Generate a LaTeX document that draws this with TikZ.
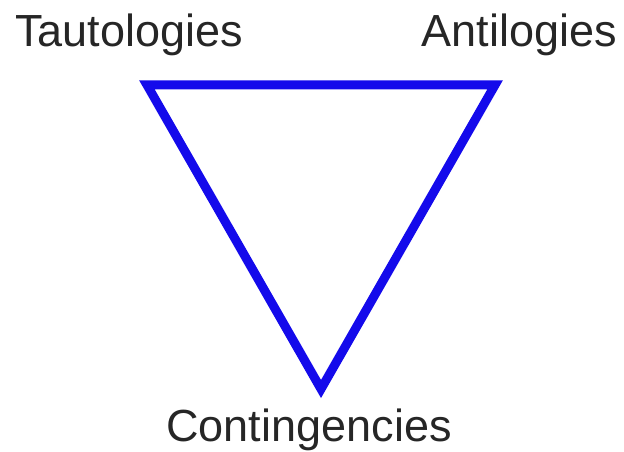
\documentclass[tikz,border=0pt]{standalone}
\usepackage{fontspec}
\setmainfont{Liberation Sans}
\definecolor{triblue}{RGB}{20,10,235}
\begin{document}
\begin{tikzpicture}[x=1pt,y=1pt,
  lbl/.style={inner sep=0pt,font=\fontsize{45}{54}\selectfont,text=black!85},
  tri/.style={draw=triblue,line width=9pt,line join=miter}]
\useasboundingbox (0,0) rectangle (624,452);
\coordinate (tl) at (147,367);
\coordinate (tr) at (495,367);
\coordinate (bt) at (321,63);
\draw[tri] (tl) -- (tr) -- (bt) -- cycle;
\node[lbl,anchor=base west] (taut) at (15,405) {Tautologies};
\node[lbl,anchor=base east] (anti) at (617,405) {Antilogies};
\node[lbl,anchor=base] (cont) at (309,10) {Contingencies};
\end{tikzpicture}
\end{document}
